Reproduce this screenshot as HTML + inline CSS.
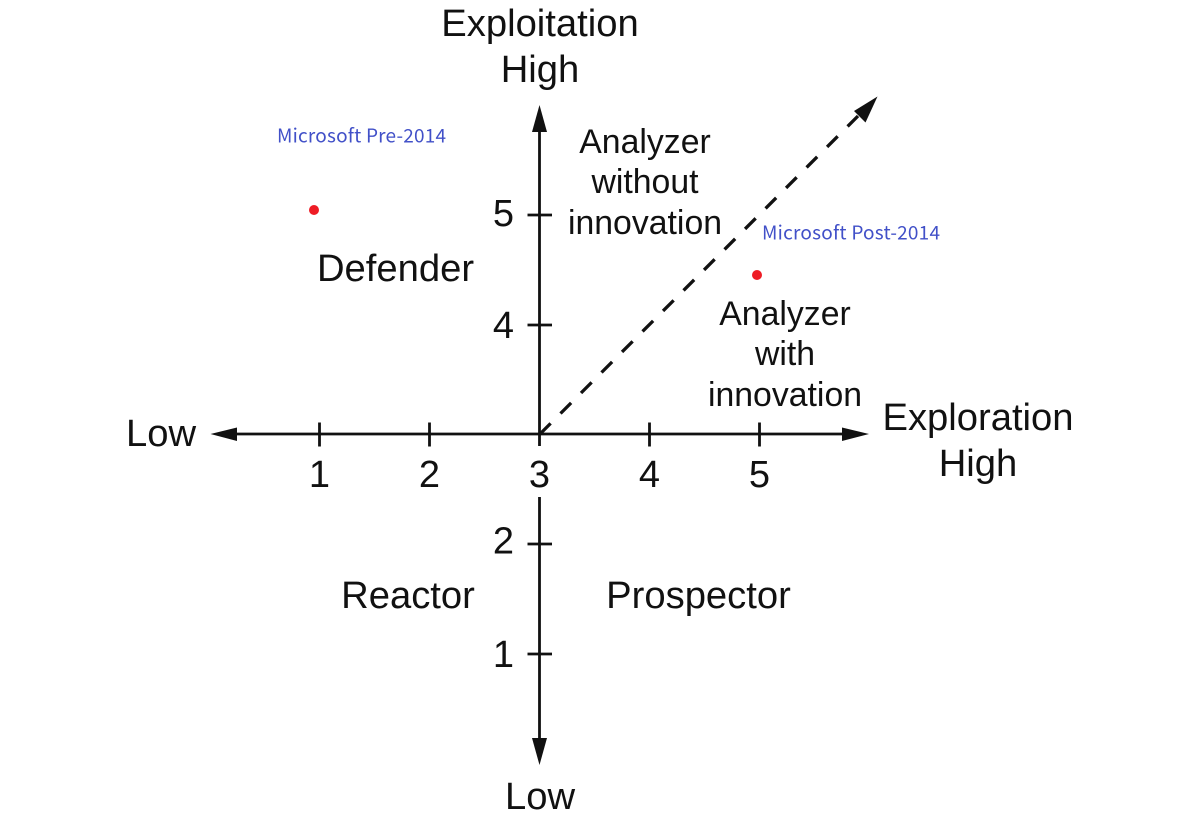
<!DOCTYPE html>
<html><head><meta charset="utf-8"><style>
html,body{margin:0;padding:0;background:#fff;width:1204px;height:817px;overflow:hidden}
svg{display:block}
text{font-family:"Liberation Sans",sans-serif;fill:#111;text-anchor:middle}
.b{font-size:38.2px}
.m{font-size:33.8px}
.n{font-size:38px}
.blue{font-family:"Noto Sans CJK SC","DejaVu Sans",sans-serif;font-size:19px;fill:#4150c8;text-anchor:start}
</style></head><body>
<svg width="1204" height="817" viewBox="0 0 1204 817" xmlns="http://www.w3.org/2000/svg">
<g stroke="#111" stroke-width="2.8" fill="none">
<line x1="230" y1="434" x2="845" y2="434"/>
<line x1="539.5" y1="128" x2="539.5" y2="446"/>
<line x1="539.5" y1="497" x2="539.5" y2="742"/>
<line x1="540" y1="434" x2="858" y2="116" stroke-dasharray="15 14" stroke-width="3.3"/>
<line x1="319.5" y1="422.5" x2="319.5" y2="446.5"/>
<line x1="429.5" y1="422.5" x2="429.5" y2="446.5"/>
<line x1="649.5" y1="422.5" x2="649.5" y2="446.5"/>
<line x1="759.5" y1="422.5" x2="759.5" y2="446.5"/>
<line x1="527.5" y1="215" x2="552" y2="215"/>
<line x1="527.5" y1="325" x2="552" y2="325"/>
<line x1="527.5" y1="544" x2="552" y2="544"/>
<line x1="527.5" y1="654" x2="552" y2="654"/>
</g>
<g fill="#111">
<polygon points="210.5,434 237,427.5 237,441"/>
<polygon points="869,434 842,427.5 842,441"/>
<polygon points="539.5,105 532,132 547,132"/>
<polygon points="539.5,765 532,738 547,738"/>
<polygon points="877.5,96.5 865.5,122.5 854,111"/>
</g>
<text class="b" x="540" y="36">Exploitation</text>
<text class="b" x="540" y="82">High</text>
<text class="b" x="978" y="430">Exploration</text>
<text class="b" x="978" y="476">High</text>
<text class="b" x="161" y="446">Low</text>
<text class="b" x="540" y="809">Low</text>
<text class="b" x="395.5" y="281">Defender</text>
<text class="b" x="408" y="608">Reactor</text>
<text class="b" x="698.5" y="608">Prospector</text>
<text class="m" x="645" y="153">Analyzer</text>
<text class="m" x="645" y="193">without</text>
<text class="m" x="645" y="234">innovation</text>
<text class="m" x="785" y="325">Analyzer</text>
<text class="m" x="785" y="365">with</text>
<text class="m" x="785" y="406">innovation</text>
<text class="n" x="319.5" y="487">1</text>
<text class="n" x="429.5" y="487">2</text>
<text class="n" x="539.5" y="487">3</text>
<text class="n" x="649.5" y="487">4</text>
<text class="n" x="759.5" y="487">5</text>
<text class="n" x="503.5" y="226">5</text>
<text class="n" x="503.5" y="338">4</text>
<text class="n" x="503.5" y="553.5">2</text>
<text class="n" x="503.5" y="667">1</text>
<text class="blue" x="277" y="142.5" textLength="169" lengthAdjust="spacing">Microsoft Pre-2014</text>
<text class="blue" x="762" y="239.5" textLength="178" lengthAdjust="spacing">Microsoft Post-2014</text>
<circle cx="314" cy="210" r="5" fill="#ee1c25"/>
<circle cx="757" cy="275" r="5" fill="#ee1c25"/>
</svg>
</body></html>
